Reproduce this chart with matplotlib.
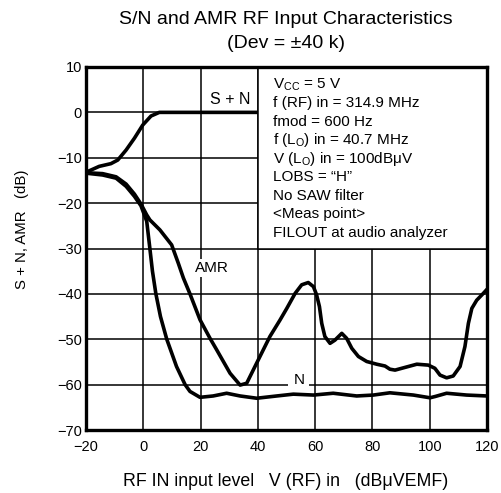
import matplotlib
matplotlib.use("Agg")
import matplotlib.pyplot as plt
from matplotlib.patches import Rectangle

plt.rcParams['font.family'] = ['Liberation Sans', 'DejaVu Sans']
plt.rcParams['mathtext.fontset'] = 'custom'
plt.rcParams['mathtext.rm'] = 'Liberation Sans'
plt.rcParams['mathtext.it'] = 'Liberation Sans'

# ---- data ----
sn_x = [-20, -15.4, -11.3, -8.9, -6.0, -3.1, -0.2, 2.7, 5.6, 10, 20, 30, 40]
sn_y = [-13.2, -11.9, -11.3, -10.5, -8.3, -5.7, -2.8, -0.8, 0, 0, 0, 0, 0]

amr_x = [-20, -14.2, -9.5, -6.0, -3.1, -0.8, 1.2, 2.3, 5.8, 9.9, 12.2, 14.0, 16.3,
         19.8, 23.3, 25.6, 30.3, 33.8, 36.1, 39.0, 44.2, 47.7, 50.1, 53.0, 55.3,
         57.6, 59.4, 60.5, 61.5, 62.3, 63.4, 65.2, 66.9, 69.3, 71.0, 72.8, 75.1,
         78.0, 81.5, 84.4, 86.1, 87.9, 91.4, 95.5, 99.5, 101.8, 103.6, 105.9, 108.2,
         110.6, 112.3, 113.5, 114.7, 116.4, 118.7, 120]
amr_y = [-13.3, -13.5, -14.2, -15.8, -18.0, -20.2, -22.6, -23.7, -25.9, -29.2, -33.2,
         -36.5, -40.0, -45.7, -49.8, -52.3, -57.5, -60.1, -59.7, -56.0, -49.4, -45.8,
         -43.2, -39.9, -38.0, -37.5, -38.4, -40.2, -42.8, -46.5, -49.4, -50.9, -50.2,
         -48.7, -49.8, -52.0, -53.8, -54.9, -55.5, -55.9, -56.6, -56.8, -56.2, -55.5,
         -55.7, -56.4, -57.9, -58.5, -58.1, -56.0, -51.6, -46.5, -43.2, -41.4, -39.9,
         -39.0]

n_x = [-20, -14.2, -9.5, -6.0, -3.1, -0.8, 1.2, 2.3, 3.2, 4.4, 6.0, 8.2, 11.6, 14.6,
       16.3, 19.8, 24.4, 29.1, 33.8, 39.6, 46.6, 52.4, 59.4, 66.3, 74.5, 80.3, 86.1,
       94.3, 100.1, 102.0, 105.9, 112.9, 120]
n_y = [-13.4, -13.8, -14.5, -16.3, -18.5, -20.6, -24.0, -30.0, -35.0, -40.0, -45.0,
       -50.0, -56.0, -60.0, -61.5, -62.8, -62.5, -61.9, -62.5, -63.0, -62.5, -62.1,
       -62.3, -61.9, -62.5, -62.3, -61.8, -62.3, -62.9, -62.6, -61.9, -62.3, -62.5]

x_ticks = [-20, 0, 20, 40, 60, 80, 100, 120]
y_ticks = [-70, -60, -50, -40, -30, -20, -10, 0, 10]

conditions = [
    r"V$_{\mathregular{CC}}$ = 5 V",
    "f (RF) in = 314.9 MHz",
    "fmod = 600 Hz",
    r"f (L$_{\mathregular{O}}$) in = 40.7 MHz",
    r"V (L$_{\mathregular{O}}$) in = 100dBμV",
    "LOBS = \u201cH\u201d",
    "No SAW filter",
    "<Meas point>",
    "FILOUT at audio analyzer",
]

W, H = 502, 493
fig = plt.figure(figsize=(W / 100, H / 100), dpi=100)
ax = fig.add_axes([86 / W, 1 - 430 / H, (487 - 86) / W, (430 - 67) / H])

ax.set_xlim(-20, 120)
ax.set_ylim(-70, 10)
ax.set_xticks(x_ticks)
ax.set_yticks(y_ticks)
ax.set_xticklabels([str(v).replace('-', '\u2212') for v in x_ticks], fontsize=10.5)
ax.set_yticklabels([str(v).replace('-', '\u2212') for v in y_ticks], fontsize=10.5)
ax.tick_params(length=0, pad=3)
ax.tick_params(axis='x', pad=7)
ax.grid(True, color='black', linewidth=1.1, zorder=0)
ax.set_axisbelow(True)
for s in ax.spines.values():
    s.set_linewidth(2.4)
    s.set_zorder(10)

lw = 2.6
for xs, ys in ((sn_x, sn_y), (amr_x, amr_y), (n_x, n_y)):
    ax.plot(xs, ys, color='black', lw=lw, zorder=3, solid_capstyle='round',
            solid_joinstyle='round')

# condition box
ax.add_patch(Rectangle((40, -30), 80, 40, facecolor='white', edgecolor='black',
                       lw=1.1, zorder=5))
baselines_px = [88.5, 107, 125.5, 144, 162.5, 181, 199.5, 218, 236.5]
for txt, bpx in zip(conditions, baselines_px):
    ax.text(45.3, 10 - (bpx - 67) / 4.5375, txt, fontsize=11, ha='left',
            va='baseline', zorder=6)

bb = dict(facecolor='white', edgecolor='none', pad=1.5)
ax.text(30.2, 2.8, "S + N", fontsize=11.5, ha='center', va='center', bbox=bb, zorder=4)
ax.text(23.8, -34.3, "AMR", fontsize=11, ha='center', va='center', bbox=bb, zorder=4)
ax.text(54.3, -58.9, "N", fontsize=11, ha='center', va='center',
        bbox=dict(facecolor='white', edgecolor='none', pad=3.5), zorder=4)

fig.text(286 / W, 1 - 20 / H, "S/N and AMR RF Input Characteristics",
         fontsize=14, ha='center', va='center')
fig.text(286 / W, 1 - 43 / H, "(Dev = \u00b140 k)", fontsize=14, ha='center',
         va='center')
fig.text(286 / W, 1 - 481 / H, "RF IN input level   V (RF) in   (dBμVEMF)",
         fontsize=12.8, ha='center', va='center')
fig.text(22 / W, 1 - 229 / H, "S + N, AMR   (dB)", fontsize=10.8, ha='center',
         va='center', rotation=90)

fig.savefig("out.png", dpi=100)
